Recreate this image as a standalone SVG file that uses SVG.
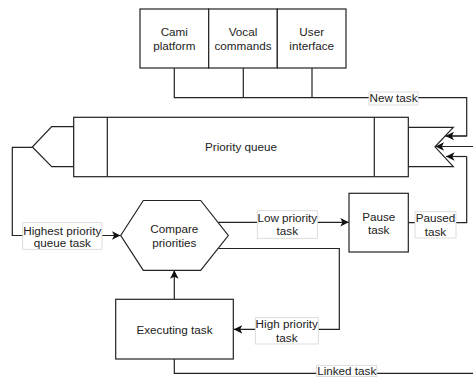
<svg xmlns="http://www.w3.org/2000/svg" width="473" height="377" viewBox="0 0 473 377">
  <defs>
    <marker id="arrow" viewBox="0 0 10 10" refX="10" refY="5" markerWidth="8.5" markerHeight="8.5" markerUnits="userSpaceOnUse" orient="auto">
      <path d="M0,0 L10,5 L0,10 L2.5,5 Z" fill="#111"/>
    </marker>
    <style>
      .shape { fill: #fff; stroke: #222; stroke-width: 1.2; }
      .div { fill: none; stroke: #222; stroke-width: 1.2; }
      .edge { fill: none; stroke: #222; stroke-width: 1.2; }
      .arrow { marker-end: url(#arrow); }
      .lbl { fill: #fff; stroke: #d4d4d4; stroke-width: 0.8; }
      text { font-family: "Liberation Sans", Arial, sans-serif; font-size: 11.7px; fill: #222; text-anchor: middle; }
    </style>
  </defs>

  <rect width="473" height="377" fill="#fff"/>

  <!-- connectors -->
  <g id="connectors">
    <!-- inputs to the queue -->
    <path class="edge" d="M174.3,68 V97.7 H466.7 V136 H445"/>
    <path class="edge" d="M243.3,68 V97.7"/>
    <path class="edge" d="M312,68 V97.7"/>
    <path class="edge arrow" d="M466.7,136 H445.5"/>
    <!-- linked task back to queue -->
    <path class="edge" d="M174.3,359 V373.3 H480 V146.5"/>
    <path class="edge arrow" d="M480,146.5 H435.5"/>
    <!-- paused task back to queue -->
    <path class="edge" d="M408.3,222.7 H466.7 V156.5"/>
    <path class="edge arrow" d="M466.7,156.5 H446"/>
    <!-- queue head to compare -->
    <path class="edge arrow" d="M32.3,147.3 H12.3 V235.5 H120.5"/>
    <!-- low priority -->
    <path class="edge arrow" d="M218.3,222.3 H348.8"/>
    <!-- high priority -->
    <path class="edge arrow" d="M218.3,248.5 H339.3 V329.3 H233.8"/>
    <!-- executing back to compare -->
    <path class="edge arrow" d="M174.3,299.3 V270.3"/>

    <!-- edge labels -->
    <g id="label-new-task">
      <rect class="lbl" x="369" y="92" width="49" height="13"/>
      <text x="393.5" y="102.2">New task</text>
    </g>
    <g id="label-highest">
      <rect class="lbl" x="22.7" y="222.7" width="79.3" height="26.6"/>
      <text x="62.3" y="234.6">Highest priority</text>
      <text x="62.3" y="247">queue task</text>
    </g>
    <g id="label-low">
      <rect class="lbl" x="257.3" y="210.7" width="60" height="27.6"/>
      <text x="287.3" y="222.4">Low priority</text>
      <text x="287.3" y="235">task</text>
    </g>
    <g id="label-high">
      <rect class="lbl" x="255.3" y="317.7" width="63" height="26.3"/>
      <text x="286.8" y="328.2">High priority</text>
      <text x="286.8" y="341.6">task</text>
    </g>
    <g id="label-paused">
      <rect class="lbl" x="415" y="211.7" width="41" height="26.3"/>
      <text x="435.5" y="222.4">Paused</text>
      <text x="435.5" y="235.7">task</text>
    </g>
    <g id="label-linked">
      <rect class="lbl" x="316.7" y="365.3" width="60" height="11.2"/>
      <text x="346.7" y="375.2">Linked task</text>
    </g>
  </g>

  <!-- input sources -->
  <g id="cami-platform">
    <rect class="shape" x="140" y="9" width="68.7" height="59"/>
    <text x="174.3" y="36.3">Cami</text>
    <text x="174.3" y="49.7">platform</text>
  </g>
  <g id="vocal-commands">
    <rect class="shape" x="208.7" y="9" width="68.6" height="59"/>
    <text x="243" y="36.3">Vocal</text>
    <text x="243" y="49.7">commands</text>
  </g>
  <g id="user-interface">
    <rect class="shape" x="277.3" y="9" width="68.7" height="59"/>
    <text x="311.7" y="36.3">User</text>
    <text x="311.7" y="49.7">interface</text>
  </g>

  <!-- priority queue -->
  <g id="priority-queue">
    <path class="shape" d="M73.7,126.7 H51.7 L32.3,147 L51.7,166.7 H73.7 Z"/>
    <path class="shape" d="M408.3,127.3 H453.3 L435,146.8 L453.3,166.7 H408.3 Z"/>
    <rect class="shape" x="73.7" y="117.3" width="334.6" height="59.4"/>
    <path class="div" d="M107.3,117.3 V176.7 M374.3,117.3 V176.7"/>
    <text x="241" y="151.4">Priority queue</text>
  </g>

  <!-- compare priorities -->
  <g id="compare-priorities">
    <polygon class="shape" points="120.7,235.5 143.3,200.5 200.7,200.5 228.3,235.5 200.7,270.3 143.3,270.3"/>
    <text x="174.3" y="233.4">Compare</text>
    <text x="174.3" y="246.8">priorities</text>
  </g>

  <!-- pause task -->
  <g id="pause-task">
    <rect class="shape" x="349" y="193.3" width="59.3" height="58.7"/>
    <text x="378.7" y="220.7">Pause</text>
    <text x="378.7" y="234">task</text>
  </g>

  <!-- executing task -->
  <g id="executing-task">
    <rect class="shape" x="115.7" y="299.3" width="117.6" height="59.7"/>
    <text x="174.5" y="333.8">Executing task</text>
  </g>
</svg>
